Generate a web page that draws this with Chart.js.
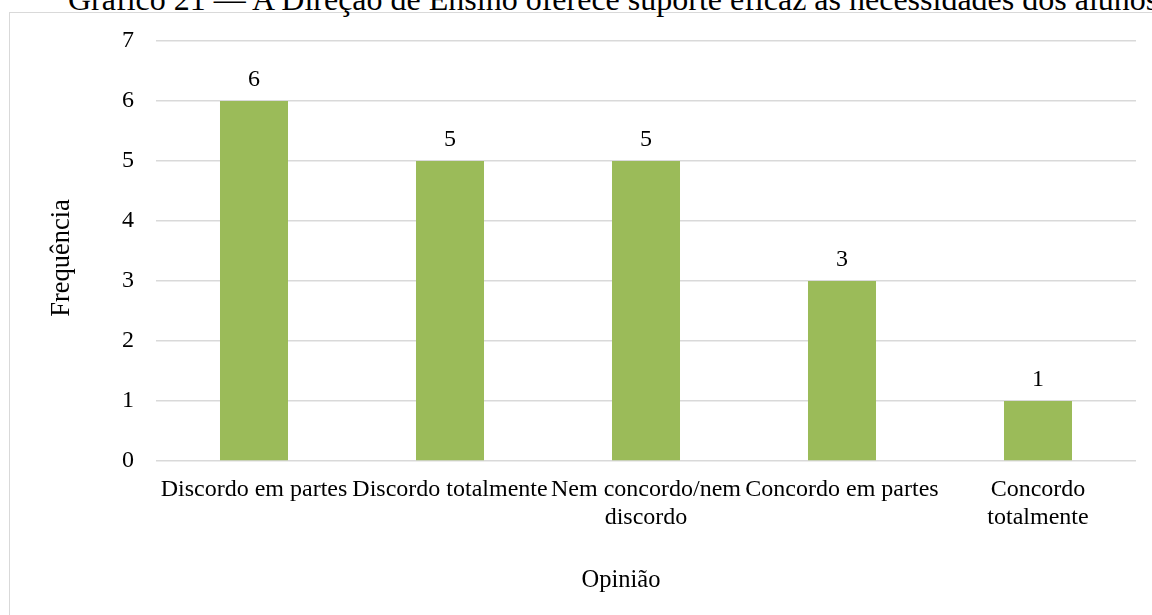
<!DOCTYPE html>
<html>
<head>
<meta charset="utf-8">
<script src="https://cdn.jsdelivr.net/npm/chart.js@4"></script>
<style>
    html, body { margin: 0; padding: 0; background: #fff; overflow: hidden; }
    #frame { position: absolute; left: 9px; top: 12px; width: 1300px; height: 800px; border: 1px solid #d9d9d9; }
    #titulo { position: absolute; left: 68px; top: -17px; font-family: 'Liberation Serif', 'Times New Roman', serif; font-size: 32px; line-height: 32px; white-space: nowrap; color: #000; }
    #wrap { position: absolute; left: 0; top: 0; width: 1152px; height: 615px; }
</style>
</head>
<body>
<div id="frame"></div>
<div id="titulo">Gráfico 21 — A Direção de Ensino oferece suporte eficaz às necessidades dos alunos</div>
<div id="wrap"><canvas id="chartOpiniao" width="1152" height="615"></canvas></div>
<script>
const categorias = [
    'Discordo em partes',
    'Discordo totalmente',
    ['Nem concordo/nem', 'discordo'],
    'Concordo em partes',
    ['Concordo', 'totalmente']
];
const frequencias = [6, 5, 5, 3, 1];
const yMin = 0, yMax = 7, yStep = 1;
const tituloX = 'Opinião';
const tituloY = 'Frequência';

const fonte = "'Liberation Serif', 'Times New Roman', serif";

// rótulos de valor em cima das barras
const rotulosBarras = {
    id: 'rotulosBarras',
    afterDatasetsDraw(chart) {
        const ctx = chart.ctx;
        ctx.save();
        ctx.font = `24px ${fonte}`;
        ctx.fillStyle = '#000';
        ctx.textAlign = 'center';
        ctx.textBaseline = 'middle';
        chart.getDatasetMeta(0).data.forEach((bar, i) => {
            ctx.fillText(String(chart.data.datasets[0].data[i]), bar.x, bar.y - 21);
        });
        ctx.restore();
    }
};

// títulos dos eixos (posição como no Excel)
const titulosEixos = {
    id: 'titulosEixos',
    afterDraw(chart) {
        const ctx = chart.ctx;
        const area = chart.chartArea;
        ctx.save();
        ctx.fillStyle = '#000';
        ctx.textAlign = 'center';
        ctx.textBaseline = 'middle';
        ctx.font = `24.5px ${fonte}`;
        ctx.fillText(tituloX, 621, 581);
        ctx.font = `26.5px ${fonte}`;
        ctx.translate(62, (area.top + area.bottom) / 2 + 7);
        ctx.rotate(-Math.PI / 2);
        ctx.fillText(tituloY, 0, 0);
        ctx.restore();
    }
};

new Chart(document.getElementById('chartOpiniao').getContext('2d'), {
    type: 'bar',
    data: {
        labels: categorias,
        datasets: [{ data: frequencias, backgroundColor: '#9bbb59', barPercentage: 0.347, categoryPercentage: 1 }]
    },
    options: {
        responsive: false,
        animation: false,
        layout: { padding: { left: 10, top: 41, right: 16, bottom: 0 } },
        plugins: { legend: { display: false }, tooltip: { enabled: false } },
        scales: {
            x: {
                grid: { display: false, drawTicks: false },
                border: { display: false },
                ticks: { color: '#000', font: { family: fonte, size: 24, lineHeight: 1.15 }, padding: 15, maxRotation: 0, autoSkip: false },
                afterFit: s => { s.height = 154; }
            },
            y: {
                min: yMin, max: yMax,
                grid: { color: '#d9d9d9', lineWidth: 1.5, drawTicks: false },
                border: { display: false },
                ticks: { stepSize: yStep, color: '#000', font: { family: fonte, size: 24 }, padding: 22 },
                afterFit: s => { s.width = 146; }
            }
        }
    },
    plugins: [rotulosBarras, titulosEixos]
});
</script>
</body>
</html>
